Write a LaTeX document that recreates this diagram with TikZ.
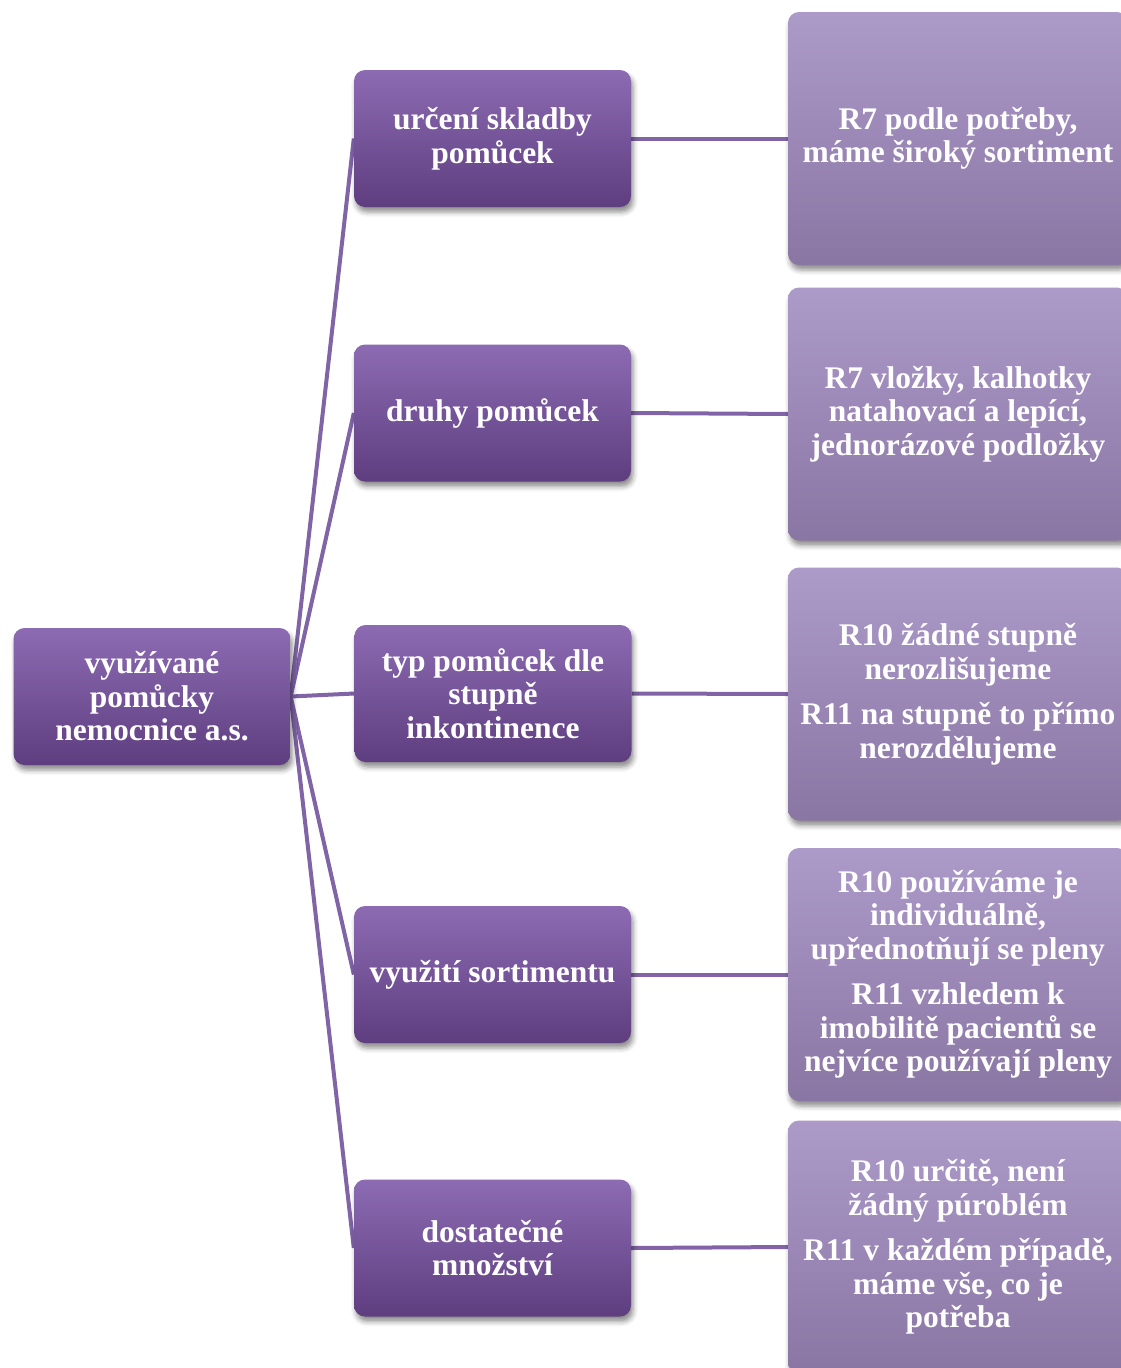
\documentclass[tikz,border=0pt]{standalone}
\usepackage{fontspec}
\setmainfont{Liberation Serif}
\usetikzlibrary{shadows.blur,backgrounds}
\definecolor{darktop}{HTML}{8C6BB3}
\definecolor{darkbot}{HTML}{5E3E7F}
\definecolor{lighttop}{HTML}{AC9AC9}
\definecolor{lightbot}{HTML}{8A76A3}
\definecolor{linkc}{HTML}{8064A6}
\begin{document}
\begin{tikzpicture}[x=1pt,y=-1pt,
  box/.style={rounded corners=11pt, draw=none, text=white,
    font=\bfseries\fontsize{31.5}{33.5}\selectfont, align=center, inner sep=0pt,
    blur shadow={shadow xshift=2pt, shadow yshift=-5pt,
      shadow blur radius=5pt, shadow opacity=45}},
  darkbox/.style={box, top color=darktop, bottom color=darkbot,
    minimum width=277pt, minimum height=137pt},
  lightbox/.style={box, top color=lighttop, bottom color=lightbot,
    minimum width=340pt, minimum height=253pt},
  link/.style={draw=linkc, line width=4pt}
]
\useasboundingbox (0,0) rectangle (1121,1368);

% root
\node[darkbox] (root) at (152,696.5) {využívané\\pomůcky\\nemocnice a.s.};

% second level
\node[darkbox] (m1) at (492.5,138.5) {určení skladby\\pomůcek};
\node[darkbox] (m2) at (492.5,413) {druhy pomůcek};
\node[darkbox] (m3) at (493,693.5) {typ pomůcek dle\\stupně\\inkontinence};
\node[darkbox] (m4) at (492.5,974.5) {využití sortimentu};
\node[darkbox] (m5) at (492.5,1248) {dostatečné\\množství};

% answers
\node[lightbox] (r1) at (958,138.5) {R7 podle potřeby,\\máme široký sortiment};
\node[lightbox] (r2) at (958,414) {R7 vložky, kalhotky\\natahovací a lepící,\\jednorázové podložky};
\node[lightbox] (r3) at (958,694) {R10 žádné stupně\\nerozlišujeme\\[12pt]R11 na stupně to přímo\\nerozdělujeme};
\node[lightbox] (r4) at (958,974.5) {R10 používáme je\\individuálně,\\upřednotňují se pleny\\[12pt]R11 vzhledem k\\imobilitě pacientů se\\nejvíce používají pleny};
\node[lightbox] (r5) at (958,1247) {R10 určitě, není\\žádný púroblém\\[12pt]R11 v každém případě,\\máme vše, co je\\potřeba};

% connectors
\begin{scope}[on background layer]
  \foreach \m in {m1,m2,m3,m4,m5}
    \draw[link] (root.east) -- (\m.west);
  \foreach \i in {1,...,5}
    \draw[link] (m\i.east) -- (r\i.west);
\end{scope}
\end{tikzpicture}
\end{document}
